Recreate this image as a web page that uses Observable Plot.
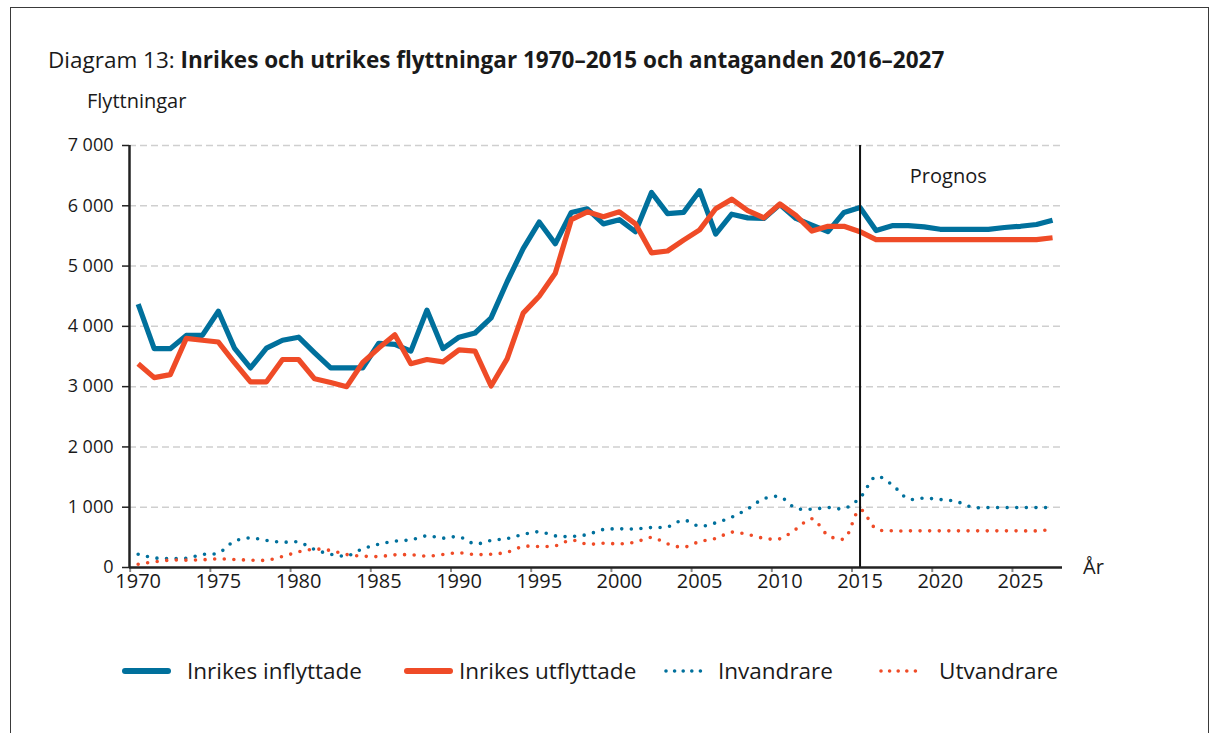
<!DOCTYPE html>
<html>
<head>
<meta charset="utf-8">
<script src="https://cdn.jsdelivr.net/npm/d3@7"></script>
<script src="https://cdn.jsdelivr.net/npm/@observablehq/plot@0.6"></script>
<style>
  body { margin: 0; background: #fff; font-family: "Open Sans", sans-serif; color: #1a1a1a; }
  #wrap { position: relative; width: 1219px; height: 733px; overflow: hidden; background: #fff; }
  #frame { position: absolute; left: 10px; top: 7px; width: 1197px; height: 760px; border: 1px solid #3a3a3a; }
  #chart { position: absolute; left: 0; top: 0; }
  .t { position: absolute; white-space: nowrap; line-height: 1; }
  #title { left: 48px; top: 49px; font-size: 22.5px; }
  #title b { font-weight: 700; }
  #ylab { left: 87px; top: 91px; font-size: 20px; }
  #xlab { left: 1083px; top: 557px; font-size: 20px; }
  .leg { position: absolute; top: 655px; display: flex; align-items: center; font-size: 22.5px; white-space: nowrap; }
</style>
</head>
<body>
<div id="wrap">
  <div id="frame"></div>
  <div id="chart"></div>
  <div class="t" id="title"></div>
  <div class="t" id="ylab"></div>
  <div class="t" id="xlab"></div>
  <div id="legend"></div>
</div>
<script>
// ---- data ----
const years = d3.range(1970, 2028);
const inflyttade = [4370,3630,3630,3850,3850,4250,3640,3310,3640,3770,
  3820,3560,3310,3310,3310,3720,3700,3590,4270,3630,
  3820,3890,4140,4740,5290,5730,5370,5890,5950,5700,
  5770,5570,6220,5870,5890,6250,5530,5860,5800,5790,
  6020,5790,5680,5570,5890,5970,5590,5670,5670,5650,
  5610,5610,5610,5610,5640,5660,5690,5760];
const utflyttade = [3380,3150,3200,3800,3770,3740,3400,3080,3080,3450,
  3450,3130,3070,3000,3400,3640,3860,3380,3450,3410,
  3610,3590,3010,3460,4220,4500,4880,5770,5900,5820,
  5900,5700,5220,5250,5430,5600,5950,6110,5920,5800,
  6030,5840,5580,5660,5660,5570,5440,5440,5440,5440,
  5440,5440,5440,5440,5440,5440,5440,5470];
const invandrare = [220,160,150,155,215,240,435,490,448,420,
  420,300,220,193,310,387,437,459,525,487,
  509,392,448,481,547,592,525,514,547,630,
  641,641,663,674,785,685,741,835,973,1139,
  1172,984,967,995,978,1156,1510,1371,1139,1150,
  1128,1095,1000,995,995,995,995,995];
const utvandrare = [55,94,122,122,128,144,133,122,122,182,
  260,304,282,215,188,182,210,210,188,215,
  243,215,221,254,348,348,359,453,387,403,
  393,420,498,393,337,431,481,586,547,486,
  476,635,808,536,476,960,641,608,608,608,
  608,608,608,608,608,608,608,630];
const seriesNames = ["Inrikes inflyttade", "Inrikes utflyttade", "Invandrare", "Utvandrare"];
const yTicks = [0,1000,2000,3000,4000,5000,6000,7000];
const xTicks = [1970,1975,1980,1985,1990,1995,2000,2005,2010,2015,2020,2025];
const prognosYear = [2015];
const prognosLabel = ["Prognos"];
const titlePrefix = "Diagram 13: ";
const titleMain = "Inrikes och utrikes flyttningar 1970–2015 och antaganden 2016–2027";
const yAxisLabel = "Flyttningar";
const xAxisLabel = "År";

// ---- styling ----
const BLUE = "#00709c";
const RED = "#ef4b27";
const colors = [BLUE, RED, BLUE, RED];
const dotted = [false, false, true, true];

const seriesData = [inflyttade, utflyttade, invandrare, utvandrare];
const rows = seriesData.map((vals, i) => years.map((y, j) => ({year: y, value: vals[j], s: seriesNames[i]})));

const fmt = d3.formatLocale({thousands: " ", grouping: [3], decimal: ","}).format(",");
const xMin = 1969.46, xMax = 2027.62;

const lineMarks = rows.map((r, i) => dotted[i]
  ? Plot.line(r, {x: "year", y: "value", stroke: colors[i], strokeWidth: 3.6, strokeDasharray: "0 9.6", strokeLinecap: "round", curve: "catmull-rom"})
  : Plot.line(r, {x: "year", y: "value", stroke: colors[i], strokeWidth: 5.2, strokeLinejoin: "round", strokeLinecap: "butt"}));

const chart = Plot.plot({
  width: 1219, height: 600,
  marginLeft: 129, marginRight: 157, marginTop: 145, marginBottom: 33,
  x: {domain: [xMin, xMax]},
  y: {domain: [0, 7000]},
  style: {fontFamily: "Open Sans, sans-serif", fontSize: "19px", color: "#1a1a1a", background: "transparent", overflow: "visible"},
  marks: [
    Plot.ruleY(yTicks.filter(d => d > 0), {stroke: "#cfcfcf", strokeDasharray: "7,4", strokeWidth: 1.5}),
    Plot.axisY({ticks: yTicks, tickFormat: fmt, tickSize: 7, tickPadding: 9, label: null, stroke: "#222", strokeWidth: 1.5, fontSize: 18}),
    Plot.axisX({ticks: xTicks.map(d => d - 0.5), tickSize: 5, tickFormat: () => "", label: null, stroke: "#8a8a8a", strokeWidth: 2}),
    Plot.axisX({ticks: xTicks, tickSize: 0, tickPadding: 6, tickFormat: d => String(d), label: null, fontSize: 20}),
    ...lineMarks,
    Plot.ruleX(prognosYear, {y1: 0, y2: 7000, stroke: "#111", strokeWidth: 2}),
    Plot.ruleY([0], {stroke: "#222", strokeWidth: 2.5}),
    Plot.ruleX([xMin], {y1: 0, y2: 7000, stroke: "#222", strokeWidth: 2.5}),
    Plot.text(prognosLabel, {x: [2020.5], y: [6480], text: d => d, fontSize: 20, fill: "#1a1a1a"})
  ]
});
document.getElementById("chart").appendChild(chart);

document.getElementById("title").innerHTML = titlePrefix + "<b>" + titleMain + "</b>";
document.getElementById("ylab").textContent = yAxisLabel;
document.getElementById("xlab").textContent = xAxisLabel;

// ---- legend ----
const legendX = [122, 404, 664, 879];
const legendGap = [16, 6, 8, 14];
const legend = document.getElementById("legend");
seriesNames.forEach((name, i) => {
  const d = document.createElement("div");
  d.className = "leg";
  d.style.left = legendX[i] + "px";
  const w = dotted[i] ? 46 : 49;
  const sw = dotted[i]
    ? `<line x1="2" y1="6" x2="${w - 2}" y2="6" stroke="${colors[i]}" stroke-width="3.6" stroke-dasharray="0 8.6" stroke-linecap="round"/>`
    : `<line x1="3" y1="6" x2="${w - 3}" y2="6" stroke="${colors[i]}" stroke-width="6" stroke-linecap="round"/>`;
  d.innerHTML = `<svg width="${w}" height="12" style="margin-right:${legendGap[i]}px">${sw}</svg><span>${name}</span>`;
  legend.appendChild(d);
});
</script>
</body>
</html>
